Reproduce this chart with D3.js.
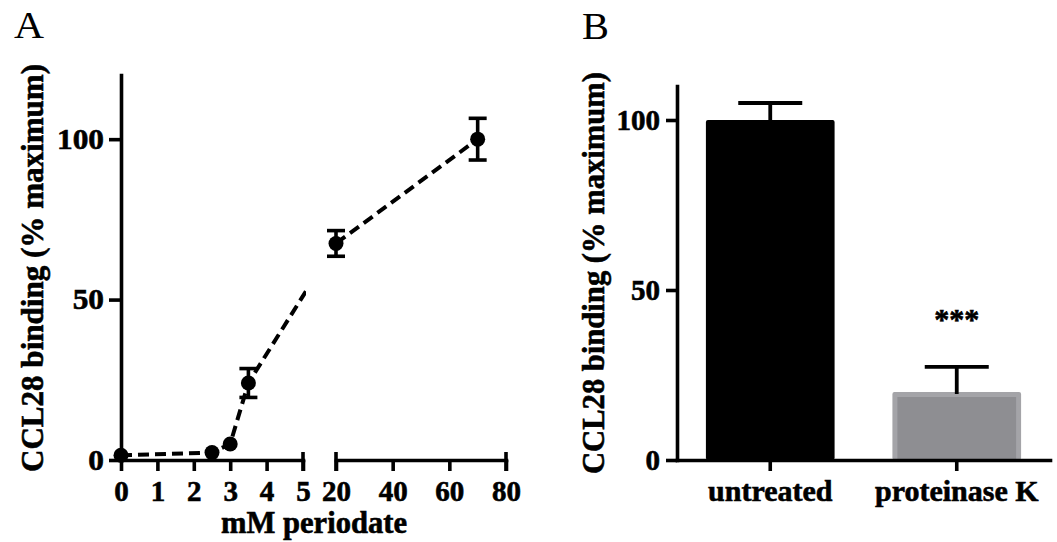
<!DOCTYPE html>
<html>
<head>
<meta charset="utf-8">
<script src="https://cdn.jsdelivr.net/npm/d3@7"></script>
<style>
  html, body { margin: 0; padding: 0; background: #fff; }
  svg { display: block; }
  text { font-family: "Liberation Serif", "Times New Roman", serif; }
  text.bold, .tick text { stroke: #000; stroke-width: 0.6px; }
</style>
</head>
<body>
<svg id="chart" width="1057" height="542"></svg>
<script>
// ---------- Data ----------
const aX = [0, 2.5, 3, 3.5, 20, 70];          // mM periodate
const aY = [1.5, 2.3, 5, 24, 67.5, 100];      // CCL28 binding (% maximum)
const aErr = [0.5, 0.5, 0.8, 4.5, 4, 6.5];
const aXTicksLeft = [0, 1, 2, 3, 4, 5];
const aXTicksRight = [20, 40, 60, 80];
const aYTicks = [0, 50, 100];

const bCategories = ["untreated", "proteinase K"];
const bValues = [100, 20];
const bErr = [5, 7.4];
const bYTicks = [0, 50, 100];
const bSignif = ["", "***"];

// ---------- Setup ----------
const svg = d3.select("#chart");
const AX_W = 3.6;
const MARKER_R = 7.5;

function styleAxis(g, fs, stretch) {
  g.selectAll("path.domain").attr("stroke", "#000").attr("stroke-width", AX_W).attr("stroke-linecap", "square");
  g.selectAll(".tick line").attr("stroke", "#000").attr("stroke-width", AX_W);
  g.selectAll(".tick text").attr("fill", "#000").style("font-size", fs + "px").style("font-weight", "bold")
    .each(function() {
      if (stretch && stretch !== 1) {
        const w = this.getComputedTextLength();
        d3.select(this).attr("textLength", w * stretch).attr("lengthAdjust", "spacingAndGlyphs");
      }
    });
}

// ================= Panel A =================
const xL = d3.scaleLinear().domain([0, 5]).range([121, 303]);
const xR = d3.scaleLinear().domain([20, 80]).range([336, 506]);
const yA = d3.scaleLinear().domain([0, 120]).range([460, 75]);
const px = v => (v <= 5 ? xL(v) : xR(v));

svg.append("text").attr("x", 14).attr("y", 38).text("A")
  .style("font-size", "38px").attr("textLength", 30).attr("lengthAdjust", "spacingAndGlyphs");

const gAy = svg.append("g").attr("transform", `translate(${xL(0)},0)`)
  .call(d3.axisLeft(yA).tickValues(aYTicks).tickSize(12).tickSizeOuter(0).tickPadding(5).tickFormat(d3.format("d")));
styleAxis(gAy, 29, 1.08);

const gAxL = svg.append("g").attr("transform", `translate(0,${yA(0)})`)
  .call(d3.axisBottom(xL).tickValues(aXTicksLeft).tickSize(11).tickSizeOuter(0).tickPadding(9).tickFormat(d3.format("d")));
styleAxis(gAxL, 29, 1);
const gAxR = svg.append("g").attr("transform", `translate(0,${yA(0)})`)
  .call(d3.axisBottom(xR).tickValues(aXTicksRight).tickSize(11).tickSizeOuter(0).tickPadding(9).tickFormat(d3.format("d")));
styleAxis(gAxR, 29, 1);

const capVals = [{v: 5, s: xL}, {v: 20, s: xR}, {v: 80, s: xR}];
svg.append("g").selectAll("line").data(capVals).join("line")
  .attr("x1", d => d.s(d.v)).attr("x2", d => d.s(d.v))
  .attr("y1", yA(0) - 8).attr("y2", yA(0) + 11)
  .attr("stroke", "#000").attr("stroke-width", AX_W);

svg.append("text").attr("class", "bold").attr("x", 314).attr("y", 533).attr("text-anchor", "middle")
  .style("font-size", "31px").style("font-weight", "bold")
  .attr("textLength", 186).attr("lengthAdjust", "spacingAndGlyphs")
  .text("mM periodate");
svg.append("text").attr("class", "bold").attr("transform", "translate(43,268) rotate(-90)").attr("text-anchor", "middle")
  .style("font-size", "32px").style("font-weight", "bold")
  .attr("textLength", 408).attr("lengthAdjust", "spacingAndGlyphs")
  .text("CCL28 binding (% maximum)");

const defs = svg.append("defs");
const clip = defs.append("clipPath").attr("id", "brk");
clip.append("rect").attr("x", 0).attr("y", 0).attr("width", xL(5) + 3).attr("height", 542);
clip.append("rect").attr("x", xR(20)).attr("y", 0).attr("width", 1057).attr("height", 542);

const ptsA = aX.map((x, i) => ({x, y: aY[i], e: aErr[i]}));
svg.append("path").datum(ptsA)
  .attr("clip-path", "url(#brk)")
  .attr("fill", "none").attr("stroke", "#000").attr("stroke-width", 4)
  .attr("stroke-dasharray", "11,6")
  .attr("d", d3.line().x(d => px(d.x)).y(d => yA(d.y)));

// error bars: like the original software, hidden when shorter than the marker
const eg = svg.append("g").attr("stroke", "#000").attr("stroke-width", 3.6);
ptsA.forEach(d => {
  const cx = px(d.x), capW = 9;
  const ePx = yA(d.y - d.e) - yA(d.y);
  if (ePx <= MARKER_R) return;
  eg.append("line").attr("x1", cx).attr("x2", cx).attr("y1", yA(d.y - d.e)).attr("y2", yA(d.y + d.e));
  eg.append("line").attr("x1", cx - capW).attr("x2", cx + capW).attr("y1", yA(d.y + d.e)).attr("y2", yA(d.y + d.e));
  eg.append("line").attr("x1", cx - capW).attr("x2", cx + capW).attr("y1", yA(d.y - d.e)).attr("y2", yA(d.y - d.e));
});
svg.append("g").selectAll("circle").data(ptsA).join("circle")
  .attr("cx", d => px(d.x)).attr("cy", d => yA(d.y)).attr("r", MARKER_R).attr("fill", "#000");

// ================= Panel B =================
const xB = d3.scaleBand().domain(bCategories).range([677, 1050]).paddingInner(0.31).paddingOuter(0.155);
const yB = d3.scaleLinear().domain([0, 110]).range([460, 86]);

svg.append("text").attr("x", 582).attr("y", 39).text("B")
  .style("font-size", "38px").attr("textLength", 27).attr("lengthAdjust", "spacingAndGlyphs");

const fills = ["#000000", "#8e8e92"];
const borders = ["#000000", "#a4a4a8"];
const bg = svg.append("g");
bCategories.forEach((c, i) => {
  const x0 = xB(c), w = xB.bandwidth(), yt = yB(bValues[i]), yb = yB(0);
  bg.append("rect").attr("x", x0).attr("y", yt).attr("width", w).attr("height", yb - yt)
    .attr("rx", 2).attr("fill", borders[i]);
  bg.append("rect").attr("x", x0 + 5).attr("y", yt + 5).attr("width", w - 10).attr("height", yb - yt - 5)
    .attr("fill", fills[i]);
});

const ebB = svg.append("g").attr("stroke", "#000").attr("stroke-width", 3.8);
bCategories.forEach((c, i) => {
  const cx = xB(c) + xB.bandwidth() / 2, capW = 32;
  const yTop = yB(bValues[i] + bErr[i]);
  ebB.append("line").attr("x1", cx).attr("x2", cx).attr("y1", yB(bValues[i]) + 2).attr("y2", yTop);
  ebB.append("line").attr("x1", cx - capW).attr("x2", cx + capW).attr("y1", yTop).attr("y2", yTop);
});

bCategories.forEach((c, i) => {
  if (!bSignif[i]) return;
  svg.append("text").attr("class", "bold").attr("x", xB(c) + xB.bandwidth() / 2).attr("y", yB(bValues[i] + bErr[i]) - 38)
    .attr("text-anchor", "middle").style("font-size", "30px").style("font-weight", "bold").text(bSignif[i]);
});

const gBy = svg.append("g").attr("transform", `translate(677,0)`)
  .call(d3.axisLeft(yB).tickValues(bYTicks).tickSize(11).tickSizeOuter(0).tickPadding(6).tickFormat(d3.format("d")));
styleAxis(gBy, 29, 1);
const gBx = svg.append("g").attr("transform", `translate(0,${yB(0)})`)
  .call(d3.axisBottom(xB).tickSize(11).tickSizeOuter(0).tickPadding(9));
styleAxis(gBx, 30, 1);

svg.append("text").attr("class", "bold").attr("transform", "translate(604,273) rotate(-90)").attr("text-anchor", "middle")
  .style("font-size", "32px").style("font-weight", "bold")
  .attr("textLength", 402).attr("lengthAdjust", "spacingAndGlyphs")
  .text("CCL28 binding (% maximum)");
</script>
</body>
</html>
